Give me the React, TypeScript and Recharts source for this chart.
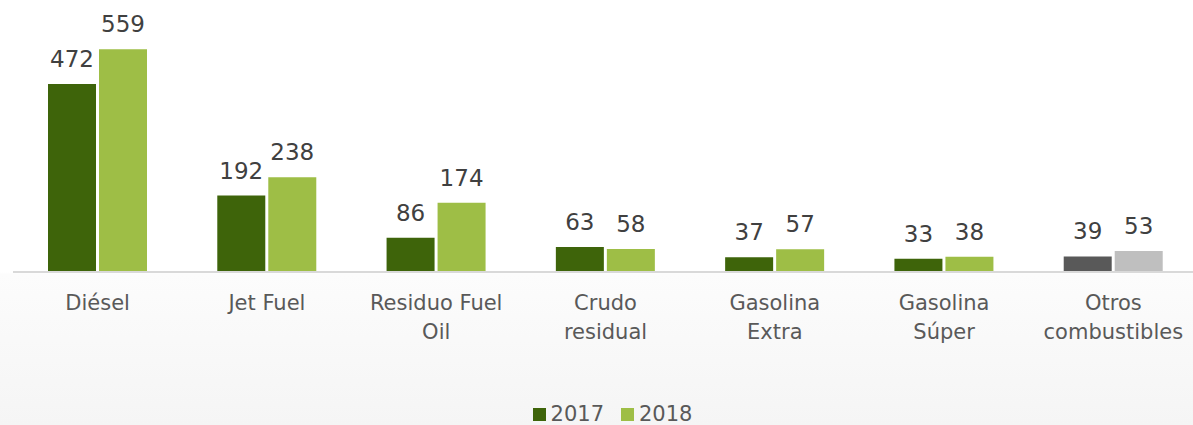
import React from "react";
import { BarChart, Bar, XAxis, YAxis, Legend, LabelList, Cell } from "recharts";

const categories = ["Diésel", "Jet Fuel", "Residuo Fuel Oil", "Crudo residual", "Gasolina Extra", "Gasolina Súper", "Otros combustibles"];
const categoryLines = [["Diésel"], ["Jet Fuel"], ["Residuo Fuel", "Oil"], ["Crudo", "residual"], ["Gasolina", "Extra"], ["Gasolina", "Súper"], ["Otros", "combustibles"]];
const values2017 = [472, 192, 86, 63, 37, 33, 39];
const values2018 = [559, 238, 174, 58, 57, 38, 53];
const seriesNames = ["2017", "2018"];

const C17 = "#3e640a";
const C18 = "#9ebe46";
const G17 = "#595959";
const G18 = "#bfbfbf";

const data = categories.map((c, i) => ({ name: c, lines: categoryLines[i], v2017: values2017[i], v2018: values2018[i] }));

const FONT = "'DejaVu Sans', sans-serif";

const Tick = (props: any) => {
  const { x, y, payload } = props;
  const lines = categoryLines[payload.index] || [payload.value];
  return (
    <text x={x} y={y} textAnchor="middle" fill="#595959" fontSize={21} fontFamily={FONT}>
      {lines.map((l: string, i: number) => (
        <tspan key={i} x={x} y={y + 30 + i * 29}>{l}</tspan>
      ))}
    </text>
  );
};

const ValueLabel = (props: any) => {
  const { x, y, width, value } = props;
  return (
    <text x={x + width / 2} y={y - 17} textAnchor="middle" fill="#404040" fontSize={23} fontFamily={FONT}>
      {value}
    </text>
  );
};

const LegendContent = () => (
  <div style={{ display: "flex", justifyContent: "center", alignItems: "center", fontFamily: FONT, fontSize: 21, color: "#595959", height: 26, lineHeight: "22px", paddingLeft: 14, transform: "translateY(5px)" }}>
    <span style={{ display: "inline-block", width: 13, height: 13, background: C17, marginRight: 5 }} />
    <span style={{ marginRight: 17 }}>{seriesNames[0]}</span>
    <span style={{ display: "inline-block", width: 13, height: 13, background: C18, marginRight: 5 }} />
    <span>{seriesNames[1]}</span>
  </div>
);

export default function App() {
  return (
    <div style={{ position: "absolute", left: 0, top: 0, width: 1193, height: 425, overflow: "hidden", background: "linear-gradient(to bottom, #ffffff 0px, #ffffff 272px, #fcfcfc 274px, #f5f5f5 425px)" }}>
      <BarChart width={1198} height={425} data={data} margin={{ top: 33, right: 0, left: 13, bottom: 0 }} barGap={3} barSize={48}>
        <XAxis dataKey="name" interval={0} tick={<Tick />} tickLine={false} axisLine={{ stroke: "#d9d9d9", strokeWidth: 2 }} height={124} />
        <YAxis hide domain={[0, 600]} />
        <Legend verticalAlign="bottom" height={29} content={<LegendContent />} />
        <Bar dataKey="v2017" isAnimationActive={false}>
          {data.map((d, i) => <Cell key={i} fill={i === 6 ? G17 : C17} />)}
          <LabelList dataKey="v2017" content={<ValueLabel />} />
        </Bar>
        <Bar dataKey="v2018" isAnimationActive={false}>
          {data.map((d, i) => <Cell key={i} fill={i === 6 ? G18 : C18} />)}
          <LabelList dataKey="v2018" content={<ValueLabel />} />
        </Bar>
      </BarChart>
    </div>
  );
}
